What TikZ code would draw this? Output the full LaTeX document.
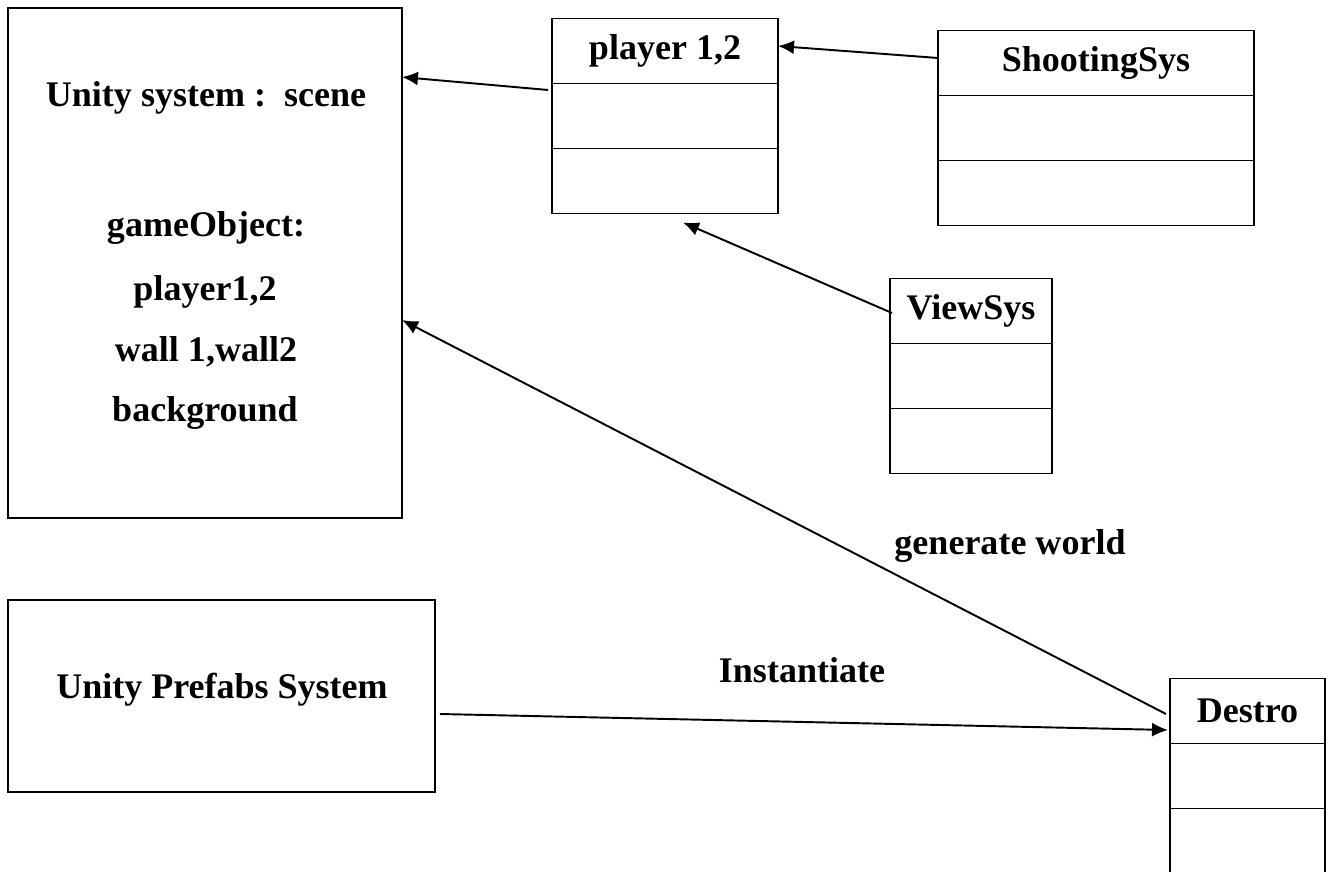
\documentclass[tikz,border=0pt]{standalone}
\usepackage{fontspec}
\setmainfont{Liberation Serif}
\usetikzlibrary{positioning, arrows.meta, calc}

\begin{document}
\begin{tikzpicture}[
  x=0.02cm, y=-0.02cm,
  >={Latex[length=0.32cm, width=0.28cm]},
  box/.style={draw, line width=1.1pt, outer sep=0pt, inner sep=0pt},
  part/.style={box, minimum height=1.3cm},
  txt/.style={font=\fontsize{20.5}{24}\selectfont\bfseries},
  arr/.style={->, line width=1.1pt},
]
\useasboundingbox (0,0) rectangle (1333,872);

% === Scene (left) ===
\node[box, minimum width=7.88cm, minimum height=10.2cm] (scene) at (205,263) {};
\node[txt] (sceneName) at (206,98) {Unity system :\ \ scene};
\node[txt] (sceneObj) at (206,228) {gameObject:};
\node[txt] (scenePl) at (205,292) {player1,2};
\node[txt] (sceneWall) at (206,352) {wall 1,wall2};
\node[txt] (sceneBg) at (205,413) {background};

% === Prefabs ===
\node[box, minimum width=8.54cm, minimum height=3.84cm] (prefabs) at (221.5,696) {};
\node[txt] (prefabsName) at (222,690) {Unity Prefabs System};

% === Classes ===
\node[part, txt, minimum width=4.52cm] (plTitle) at (665,51) {player 1,2};
\node[part, minimum width=4.52cm, below=0pt of plTitle] (plAttr) {};
\node[part, minimum width=4.52cm, below=0pt of plAttr] (plOps) {};

\node[part, txt, minimum width=6.32cm] (shTitle) at (1096,63) {ShootingSys};
\node[part, minimum width=6.32cm, below=0pt of shTitle] (shAttr) {};
\node[part, minimum width=6.32cm, below=0pt of shAttr] (shOps) {};

\node[part, txt, minimum width=3.24cm] (vwTitle) at (971,311) {ViewSys};
\node[part, minimum width=3.24cm, below=0pt of vwTitle] (vwAttr) {};
\node[part, minimum width=3.24cm, below=0pt of vwAttr] (vwOps) {};

\node[part, txt, minimum width=3.1cm] (dsTitle) at (1247.5,711) {Destro};
\node[part, minimum width=3.1cm, below=0pt of dsTitle] (dsAttr) {};
\node[part, minimum width=3.1cm, below=0pt of dsAttr] (dsOps) {};

% === Arrows ===
\draw[arr] ($(plAttr.west)+(-4,-26)$) -- ($(scene.north east)+(0,69)$);
\draw[arr] ($(shTitle.west)+(0,-5)$) -- ($(plTitle.east)+(0,-5)$);
\draw[arr] ($(vwTitle.west)+(2,2)$) -- ($(plOps.south)+(18,9)$);
\draw[arr] ($(dsTitle.west)+(-4,3)$) -- ($(scene.east)+(0,57)$);
\draw[arr] ($(prefabs.east)+(5,18)$) -- ($(dsTitle.west)+(-2,19)$);

% Labels
\node[txt] (genLbl) at (1010,546) {generate world};
\node[txt] (instLbl) at (802,670) {Instantiate};

\end{tikzpicture}
\end{document}
